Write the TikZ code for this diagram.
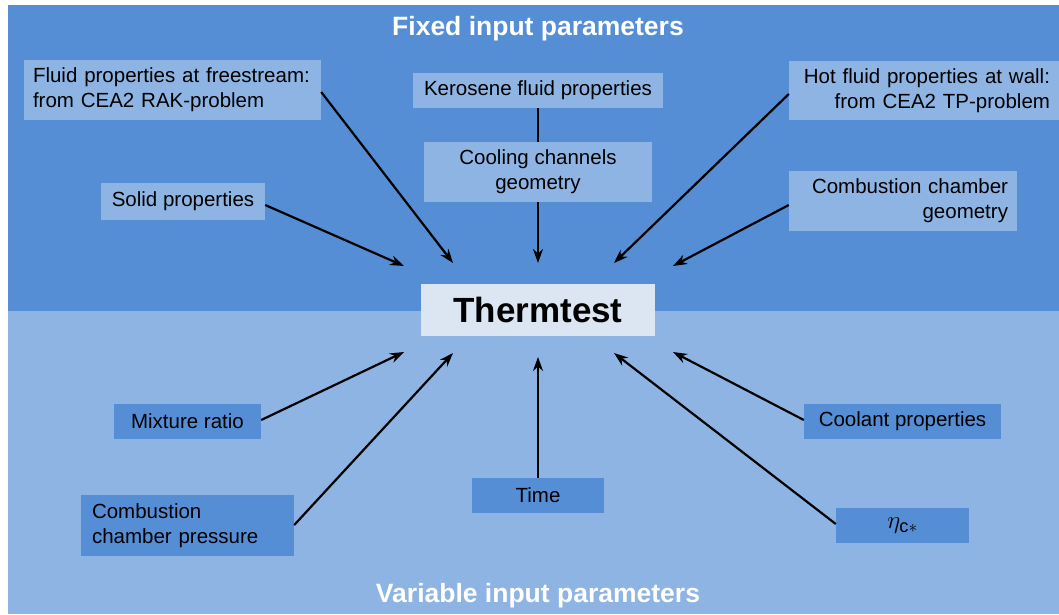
\documentclass[tikz,border=0pt]{standalone}
\usepackage{fontspec}
\setmainfont{Liberation Sans}
\usetikzlibrary{arrows.meta}
\definecolor{topblue}{HTML}{558ED5}
\definecolor{botblue}{HTML}{8EB4E3}
\definecolor{paleblue}{HTML}{DCE6F2}
\tikzset{
  lbox/.style={fill=botblue, draw=none, inner sep=0pt, font=\fontsize{20.5}{25}\selectfont, text=black},
  dbox/.style={fill=topblue, draw=none, inner sep=0pt, font=\fontsize{20.5}{25}\selectfont, text=black},
  arr/.style={-{Stealth[length=14pt,width=10pt]}, line width=2.2pt, black},
  plain/.style={line width=2.2pt, black},
  title/.style={font=\bfseries\fontsize{26.5}{30}\selectfont, text=white}
}
\begin{document}
\begin{tikzpicture}[x=1pt,y=-1pt]
\useasboundingbox (0,0) rectangle (1059,614);
\fill[white] (0,0) rectangle (1059,614);
\fill[topblue] (8,5) rectangle (1059,311);
\fill[botblue] (8,311) rectangle (1059,614);
\node[title] (ft) at (538,29) {Fixed input parameters};
\node[title] (vt) at (538,596) {Variable input parameters};
% center
\node[fill=paleblue, minimum width=234pt, minimum height=52pt, inner sep=0pt,
      font=\bfseries\fontsize{35}{38}\selectfont] (th) at (538,310) {Thermtest};
% top boxes
\node[lbox, minimum width=297pt, minimum height=60pt, align=left, text width=279pt] (fl) at (172.5,90) {Fluid properties at freestream:\\from CEA2 RAK-problem};
\node[lbox, minimum width=250pt, minimum height=35pt] (ke) at (538,90.5) {Kerosene fluid properties};
\node[lbox, minimum width=228pt, minimum height=60pt, align=center] (cc) at (538,172) {Cooling channels\\geometry};
\node[lbox, minimum width=275pt, minimum height=59pt, align=right, text width=247pt] (hf) at (926.5,90.5) {Hot fluid properties at wall:\\from CEA2 TP-problem};
\node[lbox, minimum width=164pt, minimum height=37pt] (so) at (183,201.5) {Solid properties};
\node[lbox, minimum width=228pt, minimum height=60pt, align=right, text width=210pt] (cg) at (903,201) {Combustion chamber\\geometry};
% bottom boxes
\node[dbox, minimum width=147pt, minimum height=35pt] (mr) at (187.5,421.5) {Mixture ratio};
\node[dbox, minimum width=213pt, minimum height=61pt, align=left, text width=191pt] (cp) at (187.5,525.5) {Combustion\\chamber pressure};
\node[dbox, minimum width=132pt, minimum height=35pt] (ti) at (538,495.5) {Time};
\node[dbox, minimum width=197pt, minimum height=35pt] (co) at (902.5,421.5) {Coolant properties};
\node[dbox, minimum width=133pt, minimum height=35pt, font=\fontsize{26}{28}\selectfont] (et) at (902.5,525.5) {$\eta_{\mathrm{c}*}$};
% connectors
\coordinate (t1) at (453,263);
\coordinate (t2) at (404,266);
\coordinate (t3) at (538,263);
\coordinate (t4) at (614,263);
\coordinate (t5) at (673,266);
\coordinate (b1) at (404,352);
\coordinate (b2) at (453,353);
\coordinate (b3) at (538,357);
\coordinate (b4) at (614,353);
\coordinate (b5) at (673,352);
\draw[arr] (fl.east |- 0,92) -- (t1);
\draw[arr] (so.east |- 0,205) -- (t2);
\draw[plain] (ke.south) -- (cc.north);
\draw[arr] (cc.south) -- (t3);
\draw[arr] (hf.west |- 0,94) -- (t4);
\draw[arr] (cg.west |- 0,205) -- (t5);
\draw[arr] (mr.east |- 0,420) -- (b1);
\draw[arr] (cp.east |- 0,525) -- (b2);
\draw[arr] (ti.north) -- (b3);
\draw[arr] (co.west |- 0,420) -- (b5);
\draw[arr] (et.west |- 0,524) -- (b4);
\end{tikzpicture}
\end{document}
